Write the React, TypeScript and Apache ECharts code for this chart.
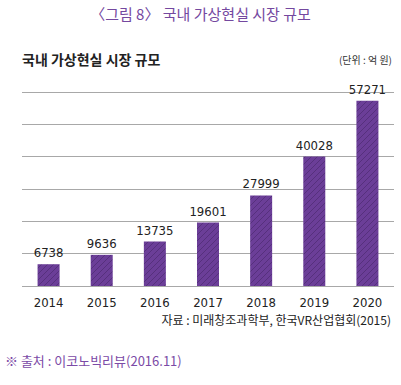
import React, { useEffect, useRef } from "react";
import * as echarts from "echarts";

const years = ["2014", "2015", "2016", "2017", "2018", "2019", "2020"];
const marketSize = [6738, 9636, 13735, 19601, 27999, 40028, 57271];

const figTitle = "〈그림 8〉 국내 가상현실 시장 규모";
const chartTitle = "국내 가상현실 시장 규모";
const unitText = "(단위 : 억 원)";
const sourceText = "자료 : 미래창조과학부, 한국VR산업협회(2015)";
const footText = "※ 출처 : 이코노빅리뷰(2016.11)";

const hatchSvg =
  "<svg xmlns='http://www.w3.org/2000/svg' width='6' height='6'>" +
  "<rect width='6' height='6' fill='#6b3e98'/>" +
  "<path d='M0,6 L6,0 M-1,1 L1,-1 M5,7 L7,5' stroke='#3f1f5f' stroke-opacity='0.6' stroke-width='0.8'/>" +
  "</svg>";
const hatchUrl = "data:image/svg+xml;charset=utf-8," + encodeURIComponent(hatchSvg);

export default function App() {
  const ref = useRef<HTMLDivElement>(null);
  useEffect(() => {
    if (!ref.current) return;
    const chart = echarts.init(ref.current, null, { renderer: "svg" });
    const numFont = "'DejaVu Sans Condensed', 'Roboto', sans-serif";
    const krFont = "'Noto Sans CJK KR', 'Noto Sans', sans-serif";
    chart.setOption({
      animation: false,
      backgroundColor: "#ffffff",
      grid: { left: 22, right: 7, top: 92, bottom: 99, containLabel: false },
      xAxis: {
        type: "category",
        data: years,
        axisLine: { show: false },
        axisTick: { show: false },
        axisLabel: {
          color: "#222",
          fontFamily: numFont,
          fontSize: 13,
          margin: 10,
        },
      },
      yAxis: {
        type: "value",
        min: 0,
        max: 60000,
        interval: 10000,
        axisLabel: { show: false },
        axisLine: { show: false },
        axisTick: { show: false },
        splitLine: { lineStyle: { color: "#a8a8a8", width: 1 } },
      },
      series: [
        {
          type: "bar",
          data: marketSize,
          barWidth: 22,
          itemStyle: {
            color: { image: hatchUrl, repeat: "repeat" },
          },
          label: {
            show: true,
            position: "top",
            distance: 5,
            color: "#222",
            fontFamily: numFont,
            fontSize: 13,
          },
        },
      ],
      graphic: [
        {
          type: "text",
          left: "center",
          top: 6,
          style: {
            text: figTitle,
            fill: "#74489f",
            font: `15px ${krFont}`,
          },
        },
        {
          type: "text",
          left: 22,
          top: 52,
          style: {
            text: chartTitle,
            fill: "#222",
            font: `bold 14px ${krFont}`,
          },
        },
        {
          type: "text",
          right: 9,
          top: 54,
          style: {
            text: unitText,
            fill: "#333",
            font: `10px ${krFont}`,
          },
        },
        {
          type: "text",
          right: 10,
          top: 313,
          style: {
            text: sourceText,
            fill: "#222",
            font: `12px ${krFont}`,
          },
        },
        {
          type: "text",
          left: 5,
          top: 354,
          style: {
            text: footText,
            fill: "#7b4aa6",
            font: `13px ${krFont}`,
          },
        },
      ],
    });
    return () => chart.dispose();
  }, []);
  return <div ref={ref} style={{ width: 401, height: 385, position: "absolute", left: 0, top: 0 }} />;
}
